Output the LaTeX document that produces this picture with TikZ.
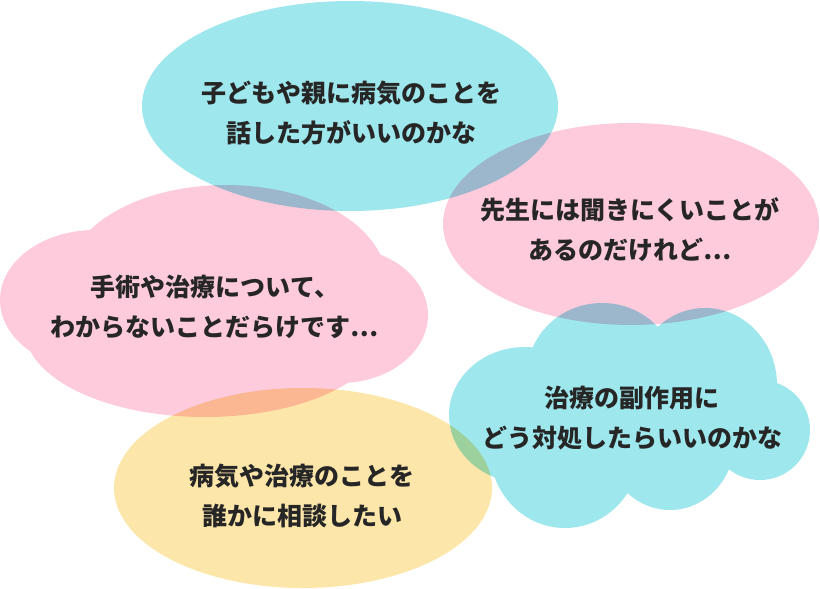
\documentclass[tikz,border=0pt]{standalone}
\usepackage{fontspec}
\usepackage{xcolor}
\newfontfamily\jpfont{Noto Sans CJK JP}
\definecolor{bubbleblue}{RGB}{158,231,236}
\definecolor{bubblepink}{RGB}{253,203,220}
\definecolor{bubbleyellow}{RGB}{253,230,170}
\definecolor{textgray}{RGB}{38,38,38}

\begin{document}
\begin{tikzpicture}[x=1pt,y=-1pt]%%worries
                \tikzstyle{bubble} = [blend mode=multiply]
                \tikzstyle{words}  = [align=center, inner sep=0pt, text=textgray, font=\jpfont\bfseries\fontsize{25}{40}\selectfont]
                \useasboundingbox (0,0) rectangle (820,589);

                \fill [bubble, bubbleblue] (350,106) ellipse [x radius=208pt, y radius=105pt];
                \fill [bubble, bubblepink] (631,224) ellipse [x radius=188pt, y radius=101pt];
                \fill [bubble, bubbleyellow] (303,488) ellipse [x radius=189pt, y radius=100pt];

                % clouds: one path each, so the lobes are filled only once
                \fill [bubble, bubblepink]
                        \foreach \x/\y/\rx/\ry in {95/300/95/70, 226/280/160/95, 340/315/88/68, 205/330/180/87}{
                                (\x,\y) ellipse [x radius=\rx pt, y radius=\ry pt]
                        };
                \fill [bubble, bubbleblue]
                        \foreach \x/\y/\rx/\ry in {525/415/76/68, 602/375/75/72, 705/385/72/77, 760/430/50/50, 670/440/65/70, 565/450/75/78, 640/420/100/60}{
                                (\x,\y) ellipse [x radius=\rx pt, y radius=\ry pt]
                        };

                \node [words](w1) at (351,113) {子どもや親に病気のことを\\話した方がいいのかな};
                \node [words](w2) at (630,230) {先生には聞きにくいことが\\あるのだけれど…};
                \node [words](w3) at (215,307) {手術や治療について、\\わからないことだらけです…};
                \node [words](w4) at (632,418) {治療の副作用に\\どう対処したらいいのかな};
                \node [words](w5) at (302,496) {病気や治療のことを\\誰かに相談したい};
\end{tikzpicture}
\end{document}
